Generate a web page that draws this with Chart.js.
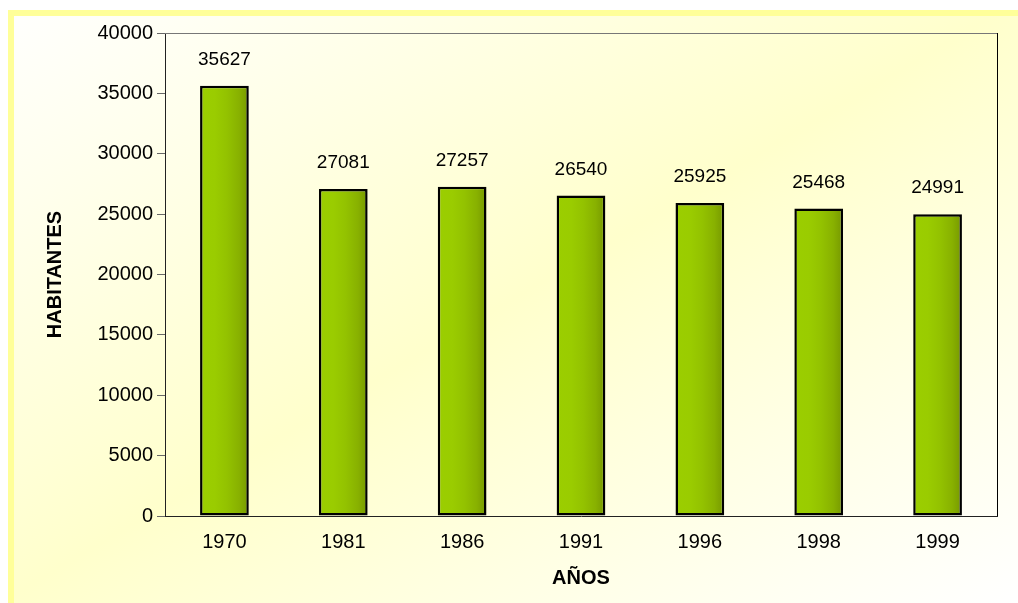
<!DOCTYPE html>
<html>
<head>
<meta charset="utf-8">
<script src="https://cdn.jsdelivr.net/npm/chart.js@4"></script>
<style>
  body { margin: 0; background: #fff; }
  canvas { display: block; }
</style>
</head>
<body>
<canvas id="chart" width="1018" height="603"></canvas>
<script>
// data
const years = ['1970', '1981', '1986', '1991', '1996', '1998', '1999'];
const habitantes = [35627, 27081, 27257, 26540, 25925, 25468, 24991];
const yMax = 40000;
const yStep = 5000;

const FONT = '"Liberation Sans", Arial, sans-serif';
const BAR_PCT = 0.41;

// background gradient + yellow frame
const backdrop = {
  id: 'backdrop',
  beforeDraw(chart) {
    const ctx = chart.ctx;
    const w = chart.width, h = chart.height;
    ctx.save();
    ctx.fillStyle = '#ffffff';
    ctx.fillRect(0, 0, w, h);
    const g = ctx.createLinearGradient(245, -145, 773, 748);
    g.addColorStop(0, '#ffffff');
    g.addColorStop(0.5, '#ffffcc');
    g.addColorStop(1, '#ffffff');
    ctx.fillStyle = g;
    ctx.fillRect(8, 10, w - 8, h - 10);
    ctx.fillStyle = '#ffff99';
    ctx.fillRect(8, 10, w - 8, 6);
    ctx.fillRect(8, 10, 6, h - 10);
    ctx.restore();
  },
  afterDraw(chart) {
    // top and right edges of the plot box
    const {ctx, chartArea: a} = chart;
    ctx.save();
    ctx.lineWidth = 1;
    ctx.strokeStyle = '#777';
    ctx.beginPath();
    ctx.moveTo(a.left, a.top + 0.5);
    ctx.lineTo(a.right, a.top + 0.5);
    ctx.stroke();
    ctx.strokeStyle = '#000';
    ctx.beginPath();
    ctx.moveTo(a.right + 0.5, a.top);
    ctx.lineTo(a.right + 0.5, a.bottom);
    ctx.stroke();
    ctx.restore();
  }
};

// value labels above bars
const valueLabels = {
  id: 'valueLabels',
  afterDatasetsDraw(chart) {
    const ctx = chart.ctx;
    const meta = chart.getDatasetMeta(0);
    ctx.save();
    ctx.font = '19px ' + FONT;
    ctx.fillStyle = '#000';
    ctx.textAlign = 'center';
    ctx.textBaseline = 'middle';
    meta.data.forEach((bar, i) => {
      ctx.fillText(String(habitantes[i]), bar.x, bar.y - 26);
    });
    ctx.restore();
  }
};

const barFill = (c) => {
  const chart = c.chart;
  const xs = chart.scales.x;
  if (!xs || !chart.chartArea) return '#99cc00';
  const cx = xs.getPixelForValue(c.dataIndex);
  const w = xs.width / years.length * BAR_PCT;
  const g = chart.ctx.createLinearGradient(cx - w / 2, 0, cx + w / 2, 0);
  g.addColorStop(0, '#9bce00');
  g.addColorStop(0.3, '#9acc00');
  g.addColorStop(0.55, '#93c200');
  g.addColorStop(0.8, '#88b100');
  g.addColorStop(1, '#769800');
  return g;
};

new Chart(document.getElementById('chart'), {
  type: 'bar',
  data: {
    labels: years,
    datasets: [{
      data: habitantes,
      backgroundColor: barFill,
      borderColor: '#000',
      borderWidth: 2.5,
      borderSkipped: false,
      categoryPercentage: 1,
      barPercentage: BAR_PCT
    }]
  },
  options: {
    responsive: false,
    animation: false,
    devicePixelRatio: 1,
    layout: { padding: { top: 33, right: 21, left: 0, bottom: 0 } },
    plugins: {
      legend: { display: false },
      tooltip: { enabled: false }
    },
    scales: {
      x: {
        afterFit(s) { s.height = 87; },
        grid: { display: false, drawTicks: false },
        border: { display: true, color: '#222', width: 1 },
        ticks: { color: '#000', font: { family: FONT, size: 20 }, padding: 14 },
        title: {
          display: true,
          text: 'AÑOS',
          color: '#000',
          font: { family: FONT, size: 20, weight: 'bold' },
          padding: { top: 0, bottom: 13 }
        }
      },
      y: {
        min: 0,
        max: yMax,
        afterFit(s) { s.width = 165; },
        grid: { drawOnChartArea: false, drawTicks: true, tickLength: 8, tickColor: '#666' },
        border: { display: true, color: '#222', width: 1 },
        ticks: {
          stepSize: yStep,
          color: '#000',
          font: { family: FONT, size: 20 },
          padding: 4,
          callback: (v) => String(v)
        },
        title: {
          display: true,
          text: 'HABITANTES',
          color: '#000',
          font: { family: FONT, size: 20, weight: 'bold' },
          padding: { top: 43, bottom: 0 }
        }
      }
    }
  },
  plugins: [backdrop, valueLabels]
});
</script>
</body>
</html>
